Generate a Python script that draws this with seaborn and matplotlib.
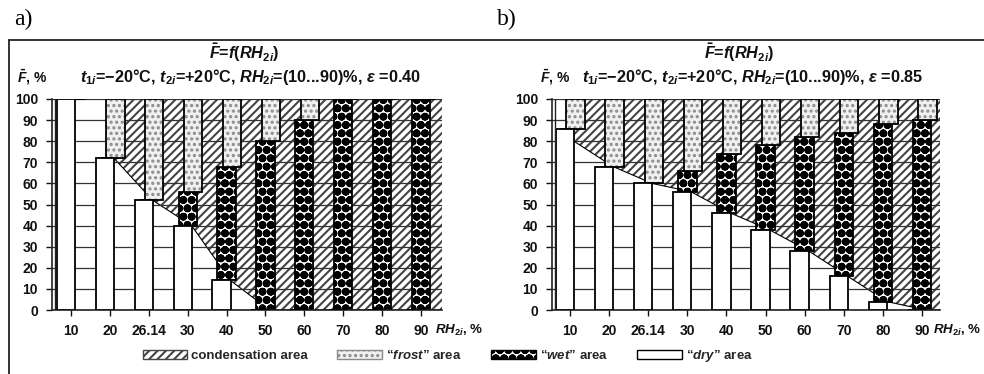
import numpy as np
import matplotlib
matplotlib.use('Agg')
import matplotlib.pyplot as plt
from matplotlib.patches import Patch
from matplotlib.lines import Line2D
import seaborn as sns

# categories on the RH_2i axis
rh_labels = ['10', '20', '26.14', '30', '40', '50', '60', '70', '80', '90']
eps_labels = ['0.40', '0.85']

# panel a)  eps = 0.40
dry_a = [100, 72, 52, 40, 14, 0, 0, 0, 0, 0]
wet_a = [0, 0, 0, 16, 54, 80, 90, 100, 100, 100]
frost_a = [0, 28, 48, 44, 32, 20, 10, 0, 0, 0]
cond_a = [np.nan, 72, 52, 40, 14, 0, 0, 0, 0, 0]

# panel b)  eps = 0.85
dry_b = [86, 68, 60, 56, 46, 38, 28, 16, 4, 0]
wet_b = [0, 0, 0, 10, 28, 40, 54, 68, 84, 90]
frost_b = [14, 32, 40, 34, 26, 22, 18, 16, 12, 10]
cond_b = [80, 68, 60, 56, 46, 38, 28, 16, 4, 0]

sns.set_theme(style='white')
plt.rcParams['font.family'] = ['Liberation Sans', 'DejaVu Sans']
plt.rcParams['font.weight'] = 'bold'
plt.rcParams['mathtext.fontset'] = 'custom'
plt.rcParams['mathtext.it'] = 'Liberation Sans:bold:italic'
plt.rcParams['mathtext.rm'] = 'Liberation Sans:bold'
plt.rcParams['mathtext.bf'] = 'Liberation Sans:bold'
plt.rcParams['hatch.linewidth'] = 1.5

COND = dict(facecolor='white', edgecolor='#444444', hatch='////')
FROST = dict(facecolor='#f0f0f0', edgecolor='#8a8a8a', hatch='...')
WET = dict(facecolor='white', edgecolor='black', hatch='OO..')

fig = plt.figure(figsize=(9.84, 3.74), dpi=100)
ax_a = fig.add_axes([52/984, 64/374, 390/984, 211/374])
ax_b = fig.add_axes([552/984, 64/374, 388/984, 211/374])


def draw(ax, dry, wet, frost, cond, xlim, lab_x):
    pos = np.arange(len(rh_labels))
    dry = np.array(dry, float)
    wet = np.array(wet, float)
    frost = np.array(frost, float)
    w = 0.47

    # condensation area above the dry boundary
    xc = np.append(pos + 0.1, xlim[1])
    yc = np.append(np.array(cond, float), cond[-1])
    ax.fill_between(xc, yc, 100, linewidth=0, zorder=0.3, **COND)
    sns.lineplot(x=xc, y=yc, color='black', lw=0.8, ax=ax, zorder=0.4)

    # stacked columns: dry / wet / frost
    ax.bar(pos, wet, w, bottom=dry, lw=0, zorder=2, **WET)
    ax.bar(pos, wet, w, bottom=dry, fill=False, edgecolor='black', lw=1.3, zorder=2.1)
    ax.bar(pos + 0.14, frost, w, bottom=dry + wet, lw=0, zorder=2.5, **FROST)
    ax.bar(pos + 0.14, frost, w, bottom=dry + wet, fill=False, edgecolor='black',
           lw=1.3, zorder=2.6)
    ax.bar(pos - 0.13, dry, w, color='white', edgecolor='black', lw=1.3, zorder=3)

    ax.set_xlim(*xlim)
    ax.set_ylim(0, 100)
    ax.set_xticks(pos, rh_labels)
    ax.set_yticks(range(0, 101, 10))
    ax.yaxis.grid(True, color='#333333', lw=0.9)
    ax.xaxis.grid(False)
    ax.set_axisbelow(True)
    sns.despine(ax=ax)
    for s in ['left', 'bottom']:
        ax.spines[s].set_color('#222222')
        ax.spines[s].set_linewidth(1.2)
    ax.axvline(xlim[0] + 0.07, color='#222222', lw=1, zorder=4)
    ax.tick_params(axis='both', direction='out', length=4, width=1,
                   labelsize=10, colors='#111111', bottom=True, left=True)
    ax.tick_params(axis='x', pad=6)
    ax.tick_params(axis='y', pad=6)
    for lbl in ax.get_xticklabels() + ax.get_yticklabels():
        lbl.set_fontweight('bold')
    ax.set_xlabel('')
    ax.set_ylabel('')
    ax.text(lab_x, -0.095, '$RH_{2i}$, %', transform=ax.get_xaxis_transform(),
            ha='left', va='center', fontsize=9.5, color='#111111')


draw(ax_a, dry_a, wet_a, frost_a, cond_a, (-0.49, 9.54), 9.36)
draw(ax_b, dry_b, wet_b, frost_b, cond_b, (-0.46, 9.46), 9.28)

# titles
for cx1, cx2, fx, eps in [(244, 250, 17, eps_labels[0]), (739, 753, 540, eps_labels[1])]:
    fig.text(cx1/984, 1 - 53/374, r'$\bar{F}$=$f(RH_{2i})$', ha='center', va='center',
             fontsize=11.7, color='#111111')
    fig.text(cx2/984, 1 - 77/374,
             r'$t_{1i}$=−20°C, $t_{2i}$=+20°C, $RH_{2i}$=(10...90)%, $\varepsilon$ =' + eps,
             ha='center', va='center', fontsize=11.7, color='#111111')
    fig.text(fx/984, 1 - 77/374, r'$\bar{F}$, %', ha='left', va='center',
             fontsize=10, color='#111111')

fig.text(14/984, 1 - 19/374, 'a)', family='Liberation Serif', weight='normal',
         fontsize=17, va='center', color='black')
fig.text(497/984, 1 - 19/374, 'b)', family='Liberation Serif', weight='normal',
         fontsize=17, va='center', color='black')

# outer frame
fig.add_artist(Line2D([9/984, 1], [1 - 40/374] * 2, color='#222222', lw=1.3))
fig.add_artist(Line2D([9/984] * 2, [0, 1 - 40/374], color='#222222', lw=1.3))

handles = [
    Patch(label='condensation area', **COND),
    Patch(label='“$frost$” area', **FROST),
    Patch(label='“$wet$” area', **WET),
    Patch(facecolor='white', edgecolor='black', label='“$dry$” area'),
]
fig.legend(handles=handles, loc='center', bbox_to_anchor=(0.455, 0.048), ncol=4,
           frameon=False, fontsize=9.5, handlelength=3.4, handleheight=0.7,
           columnspacing=2.2, handletextpad=0.3)

fig.savefig('out.png', dpi=100)
